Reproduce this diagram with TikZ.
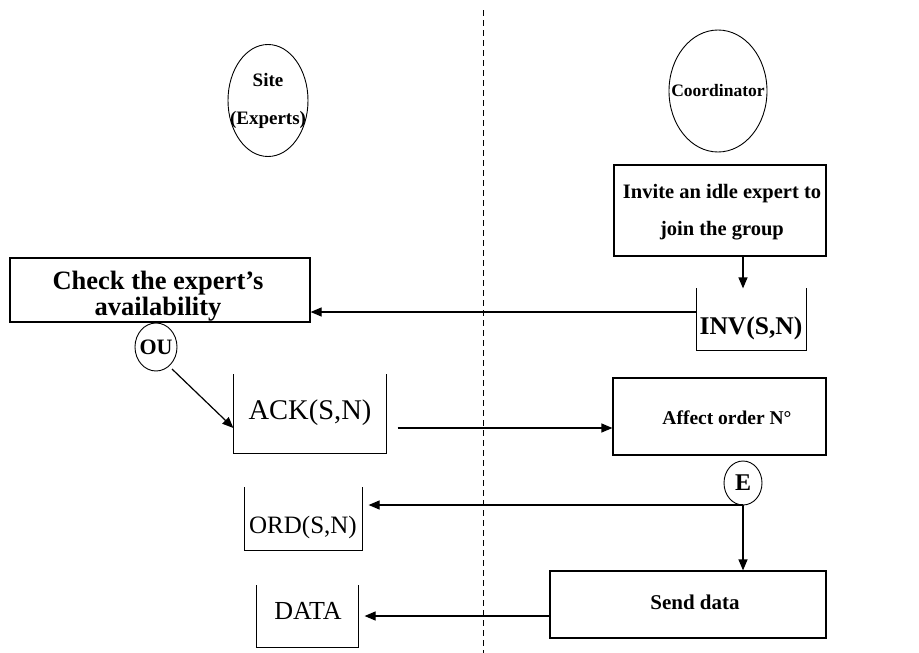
\documentclass[tikz,border=0pt]{standalone}
\usepackage{fontspec}
\setmainfont{Liberation Serif}
\usetikzlibrary{arrows.meta}
\newcommand{\fs}[2]{\fontsize{#1}{#2}\selectfont}
\begin{document}
\begin{tikzpicture}[x=1pt,y=-1pt,line width=1.2pt,
  procbox/.style={draw,rectangle,inner sep=0pt},
  txt/.style={inner sep=0pt,align=center},
  slot/.style={rectangle,inner sep=0pt},
  rim/.style={line width=0.9pt},
  arr/.style={-{Triangle[length=11pt,width=9pt]}}
]
\useasboundingbox (0,0) rectangle (919,653);

% boundary between the two sides
\draw[dash pattern=on 6pt off 4pt,line width=0.9pt] (483,10) -- (483,653);

% actors
\node[txt,font=\fs{19}{38}\bfseries] (site) at (268,100.5) {Site\\(Experts)};
\draw[rim] (site.center) ellipse [x radius=40pt,y radius=56pt];
\node[txt,font=\fs{17.5}{20}\bfseries] (coord) at (718,91) {Coordinator};
\draw[rim] (coord.center) ellipse [x radius=49pt,y radius=61pt];

% coordinator side
\node[procbox,minimum width=212pt,minimum height=91pt] (invite) at (720,210.5) {};
\node[txt,font=\fs{20.5}{37}\bfseries] (invitet) at (722,212.5) {Invite an idle expert to\\join the group};
\node[slot,minimum width=109pt,minimum height=61pt] (inv) at (751.5,319.5) {};
\draw (inv.north west) |- (inv.south east) -- (inv.north east);
\node[txt,font=\fs{25.5}{28}\bfseries] (invt) at (751,328) {INV(S,N)};
\node[procbox,minimum width=213pt,minimum height=77pt] (affect) at (719.5,416.5) {};
\node[txt,font=\fs{19.5}{22}\bfseries] (affectt) at (727,418) {Affect order N°};
\node[txt,font=\fs{24}{26}\bfseries] (et) at (743,483) {E};
\draw[rim] (et.center) ellipse [x radius=19pt,y radius=22pt];
\coordinate (e) at (743,505);
\node[procbox,minimum width=276pt,minimum height=67pt] (send) at (688,604.5) {};
\node[txt,font=\fs{21}{24}\bfseries] (sendt) at (695,602) {Send data};

% site side
\node[procbox,minimum width=300pt,minimum height=64pt] (check) at (160,290) {};
\node[txt,font=\fs{26.5}{26}\bfseries] (checkt) at (158,296) {Check the expert’s\\availability};
\node[txt,font=\fs{22}{24}\bfseries] (out) at (156,347) {OU};
\draw[rim] (out.center) ellipse [x radius=21pt,y radius=24pt];
\coordinate (oustart) at (172,369);
\node[slot,minimum width=152pt,minimum height=78pt] (ack) at (310,414) {};
\draw (ack.north west) |- (ack.south east) -- (ack.north east);
\node[txt,font=\fs{28.5}{30}] (ackt) at (310,413) {ACK(S,N)};
\node[slot,minimum width=117pt,minimum height=62pt] (ord) at (303.5,519) {};
\draw (ord.north west) |- (ord.south east) -- (ord.north east);
\node[txt,font=\fs{25}{28}] (ordt) at (303,527) {ORD(S,N)};
\node[slot,minimum width=101pt,minimum height=61pt] (data) at (307.5,616.5) {};
\draw (data.north west) |- (data.south east) -- (data.north east);
\node[txt,font=\fs{26}{28}] (datat) at (308,611) {DATA};

% message flow
\coordinate (invrow) at (0,312);
\coordinate (ackrow) at (0,428);
\coordinate (erow) at (0,505);
\coordinate (sendrow) at (0,616);
\draw[arr] (invite.south -| e) -- (inv.north -| e);
\draw[arr] (inv.west |- invrow) -- (check.east |- invrow);
\draw[arr] (oustart) -- (ack.west |- ackrow);
\draw[arr] ([xshift=11pt]ack.east |- ackrow) -- (affect.west |- ackrow);
\draw[arr] (e) -- ([xshift=6pt]ord.east |- erow);
\draw[arr] (e) -- (send.north -| e);
\draw[arr] (send.west |- sendrow) -- ([xshift=6pt]data.east |- sendrow);
\end{tikzpicture}
\end{document}
